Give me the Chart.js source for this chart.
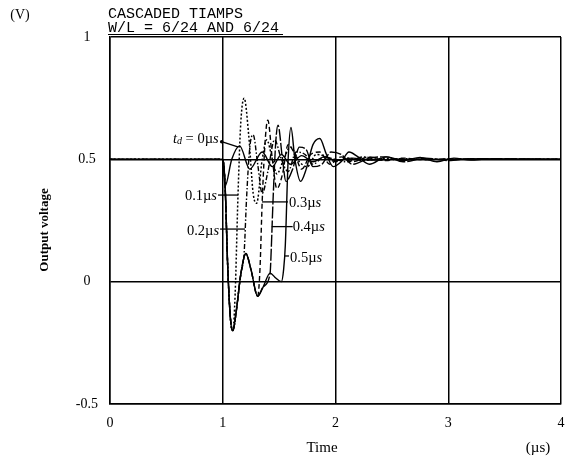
<!DOCTYPE html>
<html><head><meta charset="utf-8">
<script src="https://cdn.jsdelivr.net/npm/chart.js@4"></script>
<style>html,body{margin:0;padding:0;background:#fff}#wrap{width:565px;height:469px;position:relative}</style>
</head><body><div id="wrap"><canvas id="c" width="565" height="469"></canvas></div>
<script>
// ---- data ----
const xTickValues = [0, 1, 2, 3, 4];
const xTickLabels = ['0', '1', '2', '3', '4'];
const yTickValues = [-0.5, 0, 0.5, 1];
const yTickLabels = ['-0.5', '0', '0.5', '1'];

// common response before the second stage is released
const baseTimes = [0, 1.0, 1.02, 1.045, 1.07, 1.09, 1.12, 1.16, 1.205, 1.25, 1.31, 1.36, 1.42, 1.47, 1.52];
const baseVolts = [0.5, 0.5, 0.40, 0.05, -0.16, -0.20, -0.12, 0.03, 0.115, 0.05, -0.06, -0.02, 0.035, 0.015, 0.0];

const td0Times = [0, 1.0, 1.02, 1.08, 1.15, 1.24, 1.35, 1.44, 1.52, 1.60, 1.70, 1.80, 1.90, 2.00, 2.15, 2.30, 2.50, 4.0];
const td0Volts = [0.5, 0.5, 0.39, 0.50, 0.555, 0.46, 0.53, 0.47, 0.52, 0.48, 0.515, 0.49, 0.51, 0.495, 0.505, 0.497, 0.5, 0.5];

const td1Times = [1.11, 1.135, 1.16, 1.19, 1.23, 1.27, 1.30, 1.35, 1.39, 1.44, 1.48, 1.54, 1.60, 1.68, 1.75, 1.83, 1.92, 2.00, 2.10, 2.25, 2.40, 2.60, 4.0];
const td1Volts = [-0.05, 0.35, 0.65, 0.75, 0.60, 0.36, 0.32, 0.50, 0.58, 0.50, 0.44, 0.50, 0.55, 0.49, 0.47, 0.52, 0.51, 0.49, 0.505, 0.495, 0.503, 0.5, 0.5];

const td2Times = [1.19, 1.21, 1.24, 1.27, 1.31, 1.35, 1.40, 1.46, 1.52, 1.58, 1.65, 1.73, 1.80, 1.90, 2.00, 2.10, 2.25, 2.40, 2.60, 2.80, 4.0];
const td2Volts = [0.12, 0.33, 0.55, 0.60, 0.48, 0.36, 0.45, 0.58, 0.50, 0.45, 0.53, 0.52, 0.48, 0.51, 0.50, 0.49, 0.51, 0.497, 0.503, 0.5, 0.5];

const td3Times = [1.33, 1.35, 1.38, 1.40, 1.44, 1.48, 1.53, 1.58, 1.64, 1.70, 1.78, 1.86, 1.95, 2.05, 2.15, 2.30, 2.45, 2.60, 2.80, 3.00, 4.0];
const td3Volts = [0.05, 0.33, 0.60, 0.66, 0.50, 0.38, 0.44, 0.56, 0.52, 0.46, 0.52, 0.53, 0.48, 0.51, 0.49, 0.51, 0.495, 0.505, 0.498, 0.502, 0.5];

const td4Times = [1.43, 1.445, 1.47, 1.49, 1.53, 1.56, 1.62, 1.68, 1.74, 1.80, 1.88, 1.96, 2.05, 2.15, 2.30, 2.45, 2.60, 2.80, 3.00, 3.20, 4.0];
const td4Volts = [0.13, 0.32, 0.57, 0.64, 0.50, 0.41, 0.46, 0.55, 0.54, 0.47, 0.48, 0.53, 0.52, 0.48, 0.505, 0.51, 0.49, 0.505, 0.495, 0.503, 0.5];

const td5Times = [1.54, 1.555, 1.58, 1.605, 1.64, 1.69, 1.74, 1.80, 1.86, 1.92, 1.98, 2.05, 2.12, 2.20, 2.30, 2.45, 2.60, 2.75, 2.90, 3.05, 3.20, 3.35, 4.0];
const td5Volts = [0.05, 0.15, 0.50, 0.63, 0.50, 0.41, 0.46, 0.56, 0.585, 0.52, 0.47, 0.49, 0.53, 0.51, 0.48, 0.51, 0.495, 0.508, 0.49, 0.505, 0.497, 0.502, 0.5];

// label leader lines (data units): [t1, v1, t2, v2]
const leaderTd0 = [0.99, 0.572, 1.14, 0.55];
const leaderTd1 = [0.958, 0.354, 1.135, 0.354];
const leaderTd2 = [0.976, 0.215, 1.197, 0.215];
const leaderTd3 = [1.348, 0.326, 1.579, 0.326];
const leaderTd4 = [1.434, 0.225, 1.620, 0.225];
const leaderTd5 = [1.552, 0.105, 1.588, 0.105];
const labelTexts = ['0µs', '0.1µs', '0.2µs', '0.3µs', '0.4µs', '0.5µs'];

// ---- build ----
function pts(ts, vs) { return ts.map((t, i) => ({ x: t, y: vs[i] })); }
function withBase(until, ts, vs) {
  const bt = [], bv = [];
  baseTimes.forEach((t, i) => { if (t < ts[0] && t <= until) { bt.push(t); bv.push(baseVolts[i]); } });
  return pts(bt.concat(ts), bv.concat(vs));
}
function ds(data, dash, w) {
  return { data, borderColor: '#000', borderWidth: w || 1.4, pointRadius: 0, borderDash: dash,
           cubicInterpolationMode: 'monotone', fill: false, clip: false };
}
const datasets = [
  ds(pts(td0Times, td0Volts), []),
  ds(withBase(1.09, td1Times, td1Volts), [2, 2], 1.5),
  ds(withBase(1.16, td2Times, td2Volts), [5, 2, 1.5, 2]),
  ds(withBase(1.31, td3Times, td3Volts), [5, 3]),
  ds(withBase(1.42, td4Times, td4Volts), [12, 2]),
  ds(withBase(1.52, td5Times, td5Volts), []),
];

const SERIF = '"Liberation Serif","Times New Roman",serif';
const MONO = '"Liberation Mono","Courier New",monospace';

function drawParts(ctx, parts, x, y, align) {
  let w = 0;
  parts.forEach(p => { ctx.font = p[1]; w += ctx.measureText(p[0]).width; });
  let cx = align === 'right' ? x - w : x;
  ctx.textAlign = 'left';
  parts.forEach(p => { ctx.font = p[1]; ctx.fillText(p[0], cx, y + (p[2] || 0)); cx += ctx.measureText(p[0]).width; });
}
function muParts(txt, size) {
  const num = txt.replace('µs', '');
  return [[num + 'µ', size + 'px ' + SERIF], ['s', 'italic ' + size + 'px ' + SERIF]];
}

const annot = {
  id: 'annot',
  afterDatasetsDraw(chart) {
    const { ctx, scales: { x, y } } = chart;
    ctx.save();
    ctx.fillStyle = '#000'; ctx.strokeStyle = '#000'; ctx.lineWidth = 1.3;
    ctx.setLineDash([]);
    const leaders = [leaderTd0, leaderTd1, leaderTd2, leaderTd3, leaderTd4, leaderTd5];
    leaders.forEach(l => {
      ctx.beginPath();
      ctx.moveTo(x.getPixelForValue(l[0]), y.getPixelForValue(l[1]));
      ctx.lineTo(x.getPixelForValue(l[2]), y.getPixelForValue(l[3]));
      ctx.stroke();
    });
    ctx.beginPath();
    ctx.arc(x.getPixelForValue(leaderTd0[0]), y.getPixelForValue(leaderTd0[1]), 1.7, 0, Math.PI * 2);
    ctx.fill();
    ctx.textBaseline = 'middle';
    const fs = 14.5;
    drawParts(ctx, [['t', 'italic ' + fs + 'px ' + SERIF], ['d', 'italic 10px ' + SERIF, 3],
      [' = ', fs + 'px ' + SERIF]].concat(muParts(labelTexts[0], fs)),
      x.getPixelForValue(leaderTd0[0]) - 3, y.getPixelForValue(leaderTd0[1]) - 3, 'right');
    drawParts(ctx, muParts(labelTexts[1], fs), x.getPixelForValue(leaderTd1[0]) - 1, y.getPixelForValue(leaderTd1[1]) + 1, 'right');
    drawParts(ctx, muParts(labelTexts[2], fs), x.getPixelForValue(leaderTd2[0]) - 1, y.getPixelForValue(leaderTd2[1]) + 2, 'right');
    drawParts(ctx, muParts(labelTexts[3], fs), x.getPixelForValue(leaderTd3[2]) + 1, y.getPixelForValue(leaderTd3[3]) + 1, 'left');
    drawParts(ctx, muParts(labelTexts[4], fs), x.getPixelForValue(leaderTd4[2]) + 0, y.getPixelForValue(leaderTd4[3]) + 1, 'left');
    drawParts(ctx, muParts(labelTexts[5], fs), x.getPixelForValue(leaderTd5[2]) + 1, y.getPixelForValue(leaderTd5[3]) + 2, 'left');

    ctx.textAlign = 'center';
    ctx.font = '14px ' + SERIF;
    ctx.fillText('(V)', 20, 15);
    ctx.textAlign = 'left';
    ctx.font = '15px ' + MONO;
    ctx.fillText('CASCADED TIAMPS', 108, 14);
    const t2 = 'W/L = 6/24 AND 6/24';
    ctx.fillText(t2, 108, 28);
    const w2 = ctx.measureText(t2).width;
    ctx.lineWidth = 1;
    ctx.beginPath(); ctx.moveTo(108, 34.5); ctx.lineTo(108 + w2 + 4, 34.5); ctx.stroke();
    ctx.textAlign = 'center';
    ctx.font = '15px ' + SERIF;
    ctx.fillText('Time', 322, 448);
    ctx.fillText('(µs)', 538, 448);
    ctx.save();
    ctx.translate(45, 230);
    ctx.rotate(-Math.PI / 2);
    ctx.font = 'bold 13px ' + SERIF;
    ctx.fillText('Output voltage', 0, 0);
    ctx.restore();
    ctx.restore();
  }
};

new Chart(document.getElementById('c'), {
  type: 'line',
  data: { datasets },
  options: {
    responsive: false, animation: false,
    layout: { padding: { top: 37, right: 4, left: 0, bottom: 0 } },
    plugins: { legend: { display: false }, tooltip: { enabled: false } },
    scales: {
      x: {
        type: 'linear', min: 0, max: 4,
        afterBuildTicks: s => { s.ticks = xTickValues.map(v => ({ value: v })); },
        afterFit: s => { s.height = 65; s.paddingRight = 0; s.paddingLeft = 0; },
        ticks: { color: '#000', font: { family: SERIF, size: 14 }, padding: 11, maxRotation: 0,
                 callback: v => xTickLabels[xTickValues.indexOf(v)] },
        grid: { color: '#000', lineWidth: 1.5, drawTicks: false },
        border: { color: '#000', width: 1.5 }
      },
      y: {
        type: 'linear', min: -0.5, max: 1,
        afterBuildTicks: s => { s.ticks = yTickValues.map(v => ({ value: v })); },
        afterFit: s => { s.width = 110; },
        ticks: { color: '#000', font: { family: SERIF, size: 14 }, padding: 12, crossAlign: 'center',
                 callback: v => yTickLabels[yTickValues.indexOf(v)] },
        grid: { color: '#000', lineWidth: 1.5, drawTicks: false },
        border: { color: '#000', width: 1.5 }
      }
    }
  },
  plugins: [annot]
});
</script></body></html>
